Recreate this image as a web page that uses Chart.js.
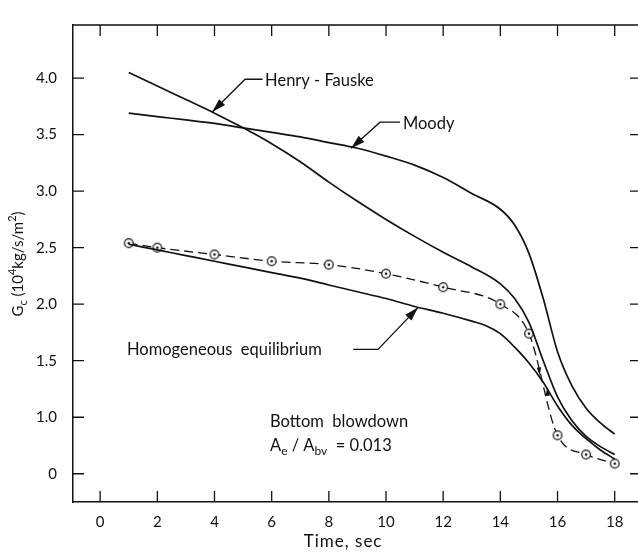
<!DOCTYPE html>
<html>
<head>
<meta charset="utf-8">
<script src="https://cdn.jsdelivr.net/npm/chart.js@4/dist/chart.umd.min.js"></script>
<style>
  html, body { margin: 0; padding: 0; overflow: hidden; background: #fff; }
  canvas { display: block; }
</style>
</head>
<body>
<canvas id="gcChart" width="660" height="558"></canvas>
<script>
const INK = "#111";
const FONT = "Lato, 'DejaVu Sans', sans-serif";

// axis ticks (the printed "0" sits one half-step below 1.0)
const xTicks = [0, 2, 4, 6, 8, 10, 12, 14, 16, 18];
const yTicks = [0.5, 1.0, 1.5, 2.0, 2.5, 3.0, 3.5, 4.0];
const yTickLabels = ["0", "1.0", "1.5", "2.0", "2.5", "3.0", "3.5", "4.0"];

// Henry - Fauske model
const henryTime = [1, 2, 3, 4, 5, 6, 7, 8, 9, 10, 11, 12, 13, 14, 14.5, 15, 15.5, 16, 16.5, 17, 17.5, 18];
const henryFlow = [4.05, 3.93, 3.81, 3.69, 3.56, 3.42, 3.26, 3.08, 2.91, 2.75, 2.60, 2.46, 2.33, 2.18, 2.05, 1.84, 1.50, 1.18, 0.97, 0.83, 0.74, 0.67];

// Moody model
const moodyTime = [1, 2, 3, 4, 5, 6, 7, 8, 9, 10, 11, 12, 13, 14, 14.5, 15, 15.5, 16, 16.5, 17, 17.5, 18];
const moodyFlow = [3.69, 3.66, 3.63, 3.60, 3.56, 3.52, 3.48, 3.43, 3.38, 3.31, 3.23, 3.12, 2.98, 2.84, 2.70, 2.45, 2.05, 1.58, 1.28, 1.08, 0.95, 0.85];

// homogeneous equilibrium model
const homTime = [1, 2, 3, 4, 5, 6, 7, 8, 9, 10, 11, 12, 13, 13.5, 14, 14.5, 15, 15.5, 16, 16.5, 17, 17.5, 18];
const homFlow = [2.53, 2.48, 2.43, 2.38, 2.33, 2.28, 2.23, 2.17, 2.11, 2.05, 1.98, 1.92, 1.85, 1.81, 1.74, 1.62, 1.48, 1.31, 1.10, 0.93, 0.81, 0.71, 0.63];

// measured points (dashed)
const measuredTime = [1, 2, 4, 6, 8, 10, 12, 14, 15, 16, 17, 18];
const measuredFlow = [2.54, 2.50, 2.44, 2.38, 2.35, 2.27, 2.15, 2.00, 1.74, 0.84, 0.67, 0.59];

// callout labels: text anchor (left, middle) and leader path ending at the arrow tip
const callouts = [
  { text: "Henry - Fauske", at: [5.77, 3.98], path: [[5.68, 3.99], [5.07, 3.99], [3.92, 3.70]] },
  { text: "Moody", at: [10.59, 3.60], path: [[10.49, 3.61], [9.79, 3.61], [8.78, 3.38]] },
  { text: "Homogeneous  equilibrium", at: [0.94, 1.60], path: [[8.85, 1.60], [9.72, 1.60], [11.12, 1.97]] }
];
// small arrowheads sitting on the dashed drop
const dashArrows = [
  { from: [15.33, 1.48], tip: [15.38, 1.37] },
  { from: [15.68, 1.15], tip: [15.63, 1.26] }
];
const noteAt = [5.94, 0.96];
const xTitleAt = 8.5;

const toPoints = (xs, ys) => xs.map((x, i) => ({ x: x, y: ys[i] }));

// open circle with a centre dot
const marker = document.createElement("canvas");
marker.width = 12; marker.height = 12;
(function () {
  const m = marker.getContext("2d");
  m.fillStyle = "#fff"; m.strokeStyle = INK; m.lineWidth = 1.2;
  m.beginPath(); m.arc(6, 6, 4.3, 0, Math.PI * 2); m.fill(); m.stroke();
  m.fillStyle = INK;
  m.beginPath(); m.arc(6, 6, 1.3, 0, Math.PI * 2); m.fill();
})();

function richText(ctx, parts, x, y, size, centered) {
  const fontFor = p => ((p.sub || p.sup) ? Math.round(size * 0.7) : size) + "px " + FONT;
  let w = 0;
  parts.forEach(p => { ctx.font = fontFor(p); w += ctx.measureText(p.t).width; });
  let cx = centered ? x - w / 2 : x;
  parts.forEach(p => {
    ctx.font = fontFor(p);
    const dy = p.sub ? size * 0.35 : p.sup ? -size * 0.4 : 0;
    ctx.fillText(p.t, cx, y + dy);
    cx += ctx.measureText(p.t).width;
  });
}

function arrowHead(ctx, from, tip, L, W) {
  const a = Math.atan2(tip[1] - from[1], tip[0] - from[0]);
  ctx.beginPath();
  ctx.moveTo(tip[0], tip[1]);
  ctx.lineTo(tip[0] - L * Math.cos(a) + W * Math.sin(a), tip[1] - L * Math.sin(a) - W * Math.cos(a));
  ctx.lineTo(tip[0] - L * Math.cos(a) - W * Math.sin(a), tip[1] - L * Math.sin(a) + W * Math.cos(a));
  ctx.closePath();
  ctx.fill();
}

function arrowPath(ctx, pts) {
  ctx.beginPath();
  ctx.moveTo(pts[0][0], pts[0][1]);
  pts.slice(1).forEach(p => ctx.lineTo(p[0], p[1]));
  ctx.stroke();
  arrowHead(ctx, pts[pts.length - 2], pts[pts.length - 1], 14, 4.2);
}

const decor = {
  id: "decor",
  afterDraw(chart) {
    const { ctx, chartArea: a, scales: { x, y } } = chart;
    const px = v => x.getPixelForValue(v);
    const py = v => y.getPixelForValue(v);
    const pt = p => [px(p[0]), py(p[1])];
    ctx.save();
    ctx.strokeStyle = INK;
    ctx.fillStyle = INK;

    // top and right frame
    ctx.lineWidth = 1.5;
    ctx.beginPath();
    ctx.moveTo(a.left, a.top); ctx.lineTo(a.right, a.top); ctx.lineTo(a.right, a.bottom);
    ctx.stroke();

    // inward tick marks
    const T = 11;
    ctx.lineWidth = 1.3;
    ctx.beginPath();
    xTicks.forEach(v => {
      ctx.moveTo(px(v), a.bottom); ctx.lineTo(px(v), a.bottom - T);
      ctx.moveTo(px(v), a.top); ctx.lineTo(px(v), a.top + T);
    });
    yTicks.forEach(v => {
      ctx.moveTo(a.left, py(v)); ctx.lineTo(a.left + T, py(v));
      ctx.moveTo(a.right, py(v)); ctx.lineTo(a.right - T, py(v));
    });
    ctx.stroke();

    // callouts
    ctx.lineWidth = 1.3;
    ctx.textAlign = "left";
    ctx.textBaseline = "middle";
    ctx.font = "16.5px " + FONT;
    callouts.forEach(c => {
      ctx.fillText(c.text, px(c.at[0]), py(c.at[1]));
      arrowPath(ctx, c.path.map(pt));
    });
    dashArrows.forEach(d => arrowHead(ctx, pt(d.from), pt(d.tip), 8, 2.2));

    // case note
    ctx.font = "16.5px " + FONT;
    ctx.fillText("Bottom  blowdown", px(noteAt[0]), py(noteAt[1]));
    richText(ctx, [
      { t: "A" }, { t: "e", sub: 1 }, { t: " / A" }, { t: "bv", sub: 1 }, { t: "  = 0.013" }
    ], px(noteAt[0]), py(noteAt[1]) + 24, 16.5, false);

    // x title
    ctx.textAlign = "center";
    ctx.font = "17px " + FONT;
    ctx.letterSpacing = "1px";
    ctx.fillText("Time, sec", px(xTitleAt), 542);
    ctx.letterSpacing = "0px";

    // y title
    ctx.textAlign = "left";
    ctx.translate(18, 264);
    ctx.rotate(-Math.PI / 2);
    richText(ctx, [
      { t: "G" }, { t: "c", sub: 1 }, { t: " (10" }, { t: "4", sup: 1 }, { t: "kg/s/m" }, { t: "2", sup: 1 }, { t: ")" }
    ], 0, 0, 15, true);
    ctx.restore();
  }
};

const solid = { borderColor: INK, borderWidth: 1.7, pointRadius: 0, cubicInterpolationMode: "monotone", fill: false };

new Chart(document.getElementById("gcChart"), {
  type: "line",
  data: {
    datasets: [
      Object.assign({ label: "Moody", data: toPoints(moodyTime, moodyFlow) }, solid),
      Object.assign({ label: "Henry - Fauske", data: toPoints(henryTime, henryFlow) }, solid),
      Object.assign({ label: "Homogeneous equilibrium", data: toPoints(homTime, homFlow) }, solid),
      {
        label: "Measured",
        data: toPoints(measuredTime, measuredFlow),
        borderColor: INK,
        borderWidth: 1.3,
        borderDash: [9, 5],
        cubicInterpolationMode: "monotone",
        pointStyle: marker,
        pointRadius: 5,
        fill: false
      }
    ]
  },
  options: {
    responsive: false,
    animation: false,
    devicePixelRatio: 1,
    layout: { padding: { top: 12, right: 19, left: 0, bottom: 0 } },
    plugins: { legend: { display: false }, tooltip: { enabled: false } },
    scales: {
      x: {
        type: "linear",
        min: -0.95,
        max: 18.92,
        grid: { display: false, drawTicks: false },
        border: { color: INK, width: 1.5 },
        afterBuildTicks: s => { s.ticks = xTicks.map(v => ({ value: v })); },
        afterFit: s => { s.height = 56; },
        ticks: { color: INK, font: { family: FONT, size: 15 }, padding: 11, maxRotation: 0 }
      },
      y: {
        type: "linear",
        min: 0.25,
        max: 4.47,
        grid: { display: false, drawTicks: false },
        border: { color: INK, width: 1.5 },
        afterBuildTicks: s => { s.ticks = yTicks.map(v => ({ value: v })); },
        afterFit: s => { s.width = 73; },
        ticks: {
          color: INK,
          font: { family: FONT, size: 15 },
          padding: 16,
          callback: v => yTickLabels[yTicks.indexOf(v)]
        }
      }
    }
  },
  plugins: [decor]
});
</script>
</body>
</html>
